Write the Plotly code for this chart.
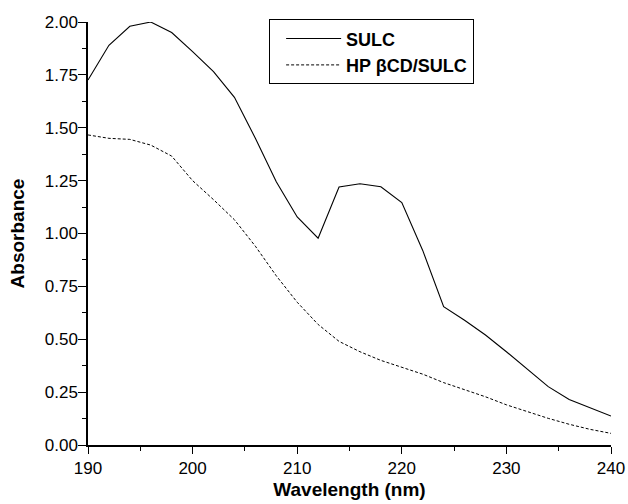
import plotly.graph_objects as go

wavelength = [190, 192, 194, 196, 198, 200, 202, 204, 206, 208, 210, 212, 214, 216, 218,
              220, 222, 224, 226, 228, 230, 232, 234, 236, 238, 240]
sulc = [1.726, 1.89, 1.98, 2.00, 1.95, 1.86, 1.765, 1.644, 1.45, 1.245, 1.078, 0.978, 1.22,
        1.235, 1.221, 1.146, 0.92, 0.654, 0.59, 0.52, 0.441, 0.36, 0.276, 0.215, 0.175, 0.137]
hp_bcd_sulc = [1.466, 1.45, 1.445, 1.418, 1.366, 1.25, 1.16, 1.065, 0.94, 0.80, 0.675, 0.57,
               0.49, 0.441, 0.40, 0.368, 0.335, 0.295, 0.263, 0.228, 0.19, 0.158, 0.126,
               0.098, 0.074, 0.055]
x_ticks = [190, 200, 210, 220, 230, 240]
y_ticks = [0.0, 0.25, 0.5, 0.75, 1.0, 1.25, 1.5, 1.75, 2.0]

fig = go.Figure()
fig.add_trace(go.Scatter(x=wavelength, y=sulc, mode="lines", name="SULC",
                         line=dict(color="black", width=1.1)))
fig.add_trace(go.Scatter(x=wavelength, y=hp_bcd_sulc, mode="lines", name="HP βCD/SULC",
                         line=dict(color="black", width=1.0, dash="3px,2px")))

font_family = "Liberation Sans, Arial, sans-serif"
fig.update_layout(
    width=628, height=504,
    margin=dict(l=88, r=17, t=22, b=59),
    paper_bgcolor="white", plot_bgcolor="white",
    font=dict(family=font_family, color="black", size=17),
    showlegend=True,
    legend=dict(x=0.3455, y=1.0064, xanchor="left", yanchor="top",
                bordercolor="black", borderwidth=1, bgcolor="white",
                font=dict(size=18, family=font_family, weight="bold"),
                title=dict(text="\u200a", side="left", font=dict(size=17)),
                tracegroupgap=0, itemwidth=55),
    xaxis=dict(range=[190, 240], tickvals=x_ticks, ticktext=[str(v) for v in x_ticks],
               showgrid=False, zeroline=False, showline=True, linecolor="black", linewidth=1.5,
               ticks="outside", ticklen=7, tickwidth=1.2, tickcolor="black", automargin=False,
               minor=dict(dtick=5, ticks="outside", ticklen=4, tickwidth=1.2, tickcolor="black", showgrid=False),
               title=dict(text="Wavelength (nm)", font=dict(size=19, weight="bold"), standoff=6),
               tickfont=dict(size=17)),
    yaxis=dict(range=[0, 2.0], tickvals=y_ticks, ticktext=[f"{v:.2f}" for v in y_ticks],
               showgrid=False, zeroline=False, showline=True, linecolor="black", linewidth=1.5,
               ticks="outside", ticklen=8, tickwidth=1.2, tickcolor="black", automargin=False,
               ticklabelstandoff=-3,
               minor=dict(dtick=0.125, tick0=0, ticks="outside", ticklen=4, tickwidth=1.2, tickcolor="black", showgrid=False),
               title=dict(text="Absorbance", font=dict(size=19, weight="bold"), standoff=15),
               tickfont=dict(size=17)),
)

fig.write_html("out.html")
